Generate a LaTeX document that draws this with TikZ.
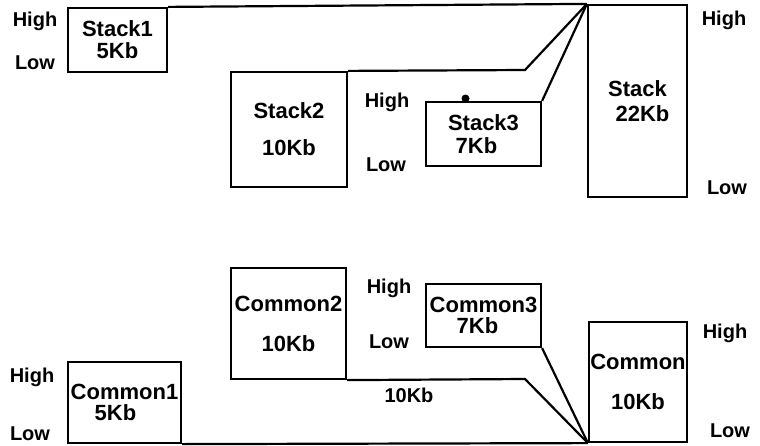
\documentclass[tikz,border=0pt]{standalone}
\usepackage{fontspec}
\setmainfont{Liberation Sans}
\begin{document}
\begin{tikzpicture}[x=1pt,y=-1pt, line width=2.2pt, line join=miter,
  box/.style={draw, rectangle, inner sep=1pt, align=center,
    font=\fontsize{22}{26}\bfseries\selectfont},
  lbl/.style={anchor=base, inner sep=0pt, font=\fontsize{20}{24}\bfseries\selectfont},
  conn/.style={draw, line width=2.2pt}]
\useasboundingbox (0,0) rectangle (760,445);

% upper diagram
\node[box, minimum width=99pt, minimum height=64pt] (s1) at (117.5,40) {Stack1\\[-4pt]5Kb};
\node[box, minimum width=99pt, minimum height=192pt] (s) at (637.5,101) {Stack\\[-1pt]\kern10pt 22Kb};
\node[box, minimum width=116pt, minimum height=115pt] (s2) at (289,129.5) {Stack2\\[11pt]10Kb};
\node[box, minimum width=115pt, minimum height=64pt] (s3) at (483.5,134) {Stack3\\[-3pt]7Kb\kern 14pt};
\node[circle, fill, inner sep=0pt, minimum size=8pt] (dot) at (465.5,98.5) {};
\coordinate (b1) at (525,70);

\draw[conn] (s1.north east) -- (s.north west);
\draw[conn] (s2.north east) -- (b1) -- (s.north west);
\draw[conn] (s3.north east) -- (s.north west);

\node[lbl] (h1) at (35,26) {High};
\node[lbl] (l1) at (35,69) {Low};
\node[lbl] (h2) at (387,107) {High};
\node[lbl] (l2) at (386,171) {Low};
\node[lbl] (h3) at (724,25) {High};
\node[lbl] (l3) at (727,194) {Low};

% lower diagram
\node[box, minimum width=113pt, minimum height=81pt] (c1) at (124.5,402.5) {Common1\\[-5pt]5Kb\kern 18pt};
\node[box, minimum width=115pt, minimum height=111pt] (c2) at (288.5,323.5) {Common2\\[14pt]10Kb};
\node[box, minimum width=115pt, minimum height=63pt] (c3) at (483.5,315.5) {Common3\\[-5pt]7Kb\kern 12pt};
\node[box, minimum width=98pt, minimum height=120pt] (c) at (638,382) {Common\\[14pt]10Kb};
\coordinate (b2) at (525,379);

\draw[conn] (c1.south east) -- (c.south west);
\draw[conn] (c2.south east) -- (b2) -- (c.south west);
\draw[conn] (c3.south east) -- (c.south west);

\node[lbl] (h4) at (32,382) {High};
\node[lbl] (l4) at (30,440) {Low};
\node[lbl] (h5) at (389,293) {High};
\node[lbl] (l5) at (389,348) {Low};
\node[lbl] (h6) at (725,338) {High};
\node[lbl] (l6) at (730,437) {Low};
\node[lbl] (k10) at (409,402) {10Kb};
\end{tikzpicture}
\end{document}
